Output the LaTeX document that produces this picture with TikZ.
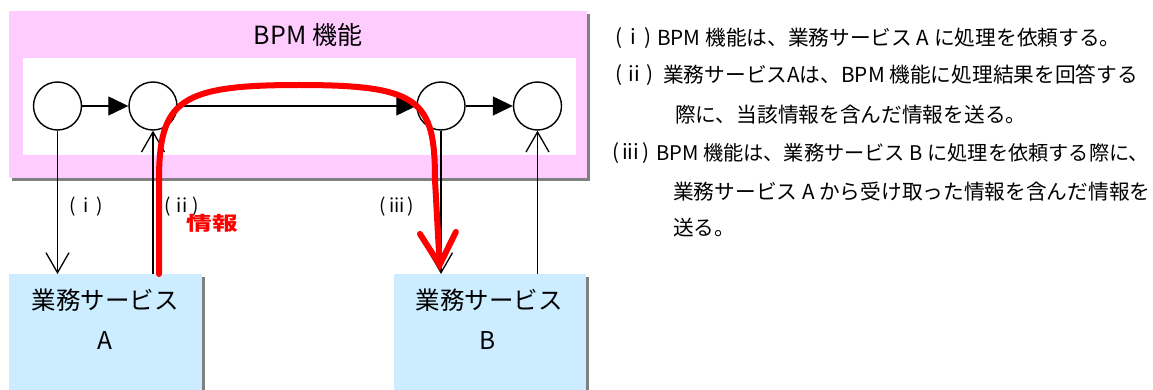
\documentclass[tikz,border=0pt]{standalone}
\usepackage{fontspec}
\setmainfont{Noto Sans CJK JP}
\usetikzlibrary{arrows.meta}
\definecolor{bpmpink}{HTML}{FFCCFF}
\definecolor{svcblue}{HTML}{CCECFF}
\definecolor{shadowgray}{HTML}{808080}
\definecolor{infored}{HTML}{FF0000}
\begin{document}
\begin{tikzpicture}[x=1pt,y=-1pt,
  state/.style={circle, draw, line width=1.4pt, minimum size=48pt, inner sep=0pt, fill=white},
  flow/.style={line width=1.3pt, -{Triangle[length=20pt,width=19pt]}},
  call/.style={line width=1.3pt, -{Straight Barb[length=20pt,width=23pt]}},
  svc/.style={rectangle, fill=svcblue, minimum width=193pt, minimum height=130pt, inner sep=0pt, anchor=north west},
  infoflow/.style={draw=infored, line width=6pt, line cap=round, line join=round, -{Straight Barb[length=32pt,width=36pt,line cap=round]}},
  svctext/.style={font=\fontsize{24.5}{28}\selectfont, inner sep=0pt},
  lbl/.style={font=\fontsize{19}{22}\selectfont, inner sep=0pt},
  note/.style={font=\fontsize{20.7}{24}\selectfont, inner sep=0pt, anchor=west}
]
\useasboundingbox (0,0) rectangle (1153,390);
% BPM box
\fill[shadowgray] (12,14) rectangle (590,181);
\fill[bpmpink] (9,11) rectangle (587,178);
\fill[white] (23,58) rectangle (576,155);
\node[font=\fontsize{25}{28}\selectfont, inner sep=0pt] (title) at (308,35) {BPM 機能};
% states
\node[state] (c1) at (57.5,106) {};
\node[state] (c2) at (153,106) {};
\node[state] (c3) at (441,106) {};
\node[state] (c4) at (537.5,106) {};
\draw[flow] (c1) -- (c2);
\draw[flow] (c2) -- (c3);
\draw[flow] (c3) -- (c4);
% services
\fill[shadowgray] (12,277) rectangle (205,395);
\fill[shadowgray] (397,277) rectangle (589,395);
\node[svc] (boxA) at (9,274) {};
\node[svc, minimum width=192pt] (boxB) at (394,274) {};
\node[svctext] (tA1) at (105,300) {業務サービス};
\node[svctext] (tA2) at (105,341) {A};
\node[svctext] (tB1) at (489,300) {業務サービス};
\node[svctext] (tB2) at (488,341) {B};
% calls
\draw[call] (c1.south) -- (c1.south |- boxA.north);
\draw[call] (c2.south |- boxA.north) -- (c2.south);
\draw[call] (c3.south) -- (c3.south |- boxB.north);
\draw[call] (c4.south |- boxB.north) -- (c4.south);
\node[lbl] (l1) at (86,207) {(\hspace{0.4em}i\hspace{0.4em})};
\node[lbl] (l2) at (182,207) {(\hspace{0.3em}ii\hspace{0.3em})};
\node[lbl] (l3) at (397,207) {(\hspace{0.15em}iii\hspace{0.15em})};
% information flow
\coordinate (rs) at (159,274);
\coordinate (re) at (440,271);
\draw[infoflow] (rs) -- (159,180) .. controls (159,100) and (180,85) .. (299,85) .. controls (420,85) and (435,100) .. (435,180) -- (re);
\node[inner sep=0pt, text=infored, font=\fontsize{19}{22}\selectfont\bfseries, xscale=1.35] (info) at (212,223) {情報};
% notes
\node[note] (n1l) at (615,38) {(\hspace{0.4em}i\hspace{0.4em})};
\node[note] (n1) at (657,38) {BPM 機能は、業務サービス A に処理を依頼する。};
\node[note] (n2l) at (615,75) {(\hspace{0.3em}ii\hspace{0.3em})};
\node[note] (n2) at (663,75) {業務サービスAは、BPM 機能に処理結果を回答する};
\node[note] (n2b) at (675,115) {際に、当該情報を含んだ情報を送る。};
\node[note] (n3l) at (612,153) {(\hspace{0.15em}iii\hspace{0.15em})};
\node[note, font=\fontsize{20.2}{24}\selectfont] (n3) at (656,153) {BPM 機能は、業務サービス B に処理を依頼する際に、};
\node[note] (n3b) at (673,192) {業務サービス A から受け取った情報を含んだ情報を};
\node[note] (n3c) at (673,228) {送る。};
\end{tikzpicture}
\end{document}
